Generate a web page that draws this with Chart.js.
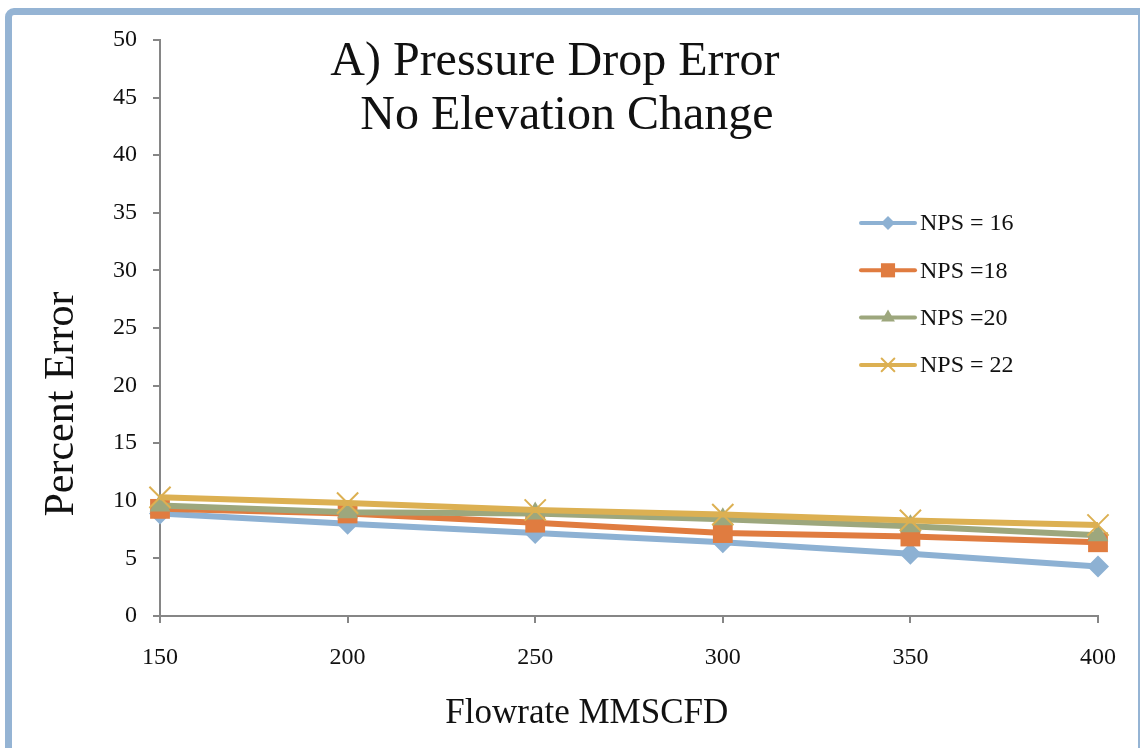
<!DOCTYPE html>
<html>
<head>
<meta charset="utf-8">
<script src="https://cdn.jsdelivr.net/npm/chart.js@4.4.1/dist/chart.umd.min.js"></script>
<style>
  html, body { margin: 0; padding: 0; background: #fff; overflow: hidden; }
  #wrap { position: relative; width: 1140px; height: 748px; }
  #frame {
    position: absolute; left: 5px; top: 8px; width: 1126px; height: 800px;
    border: 7px solid #95b4d4; border-right-width: 2px; border-radius: 9px 0 0 0;
  }
  canvas { position: absolute; left: 0; top: 0; }
</style>
</head>
<body>
<div id="wrap">
  <div id="frame"></div>
  <canvas id="errChart" width="1140" height="748"></canvas>
</div>
<script>
const flowrates = ['150', '200', '250', '300', '350', '400'];
const nps16 = [8.9, 8.0, 7.2, 6.4, 5.4, 4.3];
const nps18 = [9.3, 8.9, 8.1, 7.2, 6.9, 6.4];
const nps20 = [9.6, 9.0, 8.9, 8.4, 7.8, 7.0];
const nps22 = [10.3, 9.8, 9.2, 8.8, 8.3, 7.9];
const seriesNames = ['NPS = 16', 'NPS =18', 'NPS =20', 'NPS = 22'];
const titleLines = ['A) Pressure Drop Error', ' No Elevation Change'];

const SERIF = '"Liberation Serif", "Times New Roman", serif';
const AXIS_GREY = '#868686';

const styles = [
  { color: '#8db1d3', point: 'rectRot',  radius: 11, legendRadius: 7 },
  { color: '#e07c40', point: 'rect',     radius: 14, legendRadius: 10 },
  { color: '#9da77d', point: 'triangle', radius: 12, legendRadius: 8 },
  { color: '#dcb052', point: 'crossRot', radius: 15, legendRadius: 9 }
];

const values = [nps16, nps18, nps20, nps22];

const datasets = values.map((vals, i) => ({
  label: seriesNames[i],
  data: vals,
  borderColor: styles[i].color,
  backgroundColor: styles[i].color,
  borderWidth: 6,
  pointStyle: styles[i].point,
  pointRadius: styles[i].radius,
  pointHoverRadius: styles[i].radius,
  pointBorderWidth: styles[i].point === 'crossRot' ? 2 : 0,
  pointBorderColor: styles[i].color,
  pointBackgroundColor: styles[i].color,
  tension: 0,
  fill: false,
  order: values.length - i  // later series sit on top
}));

// title, axis titles and the in-plot legend
const textLayer = {
  id: 'textLayer',
  afterDraw(chart) {
    const { ctx, chartArea: a } = chart;
    ctx.save();
    ctx.fillStyle = '#111';

    // title
    ctx.font = '48px ' + SERIF;
    ctx.textAlign = 'center';
    ctx.textBaseline = 'alphabetic';
    const tx = a.left + 0.421 * (a.right - a.left);
    ctx.fillText(titleLines[0], tx, a.top + 35);
    ctx.fillText(titleLines[1], tx + 6, a.top + 89);

    // x axis title
    ctx.font = '35px ' + SERIF;
    ctx.fillText('Flowrate MMSCFD', a.left + 0.455 * (a.right - a.left), a.bottom + 107);

    // y axis title
    ctx.save();
    ctx.translate(a.left - 87, a.top + 364);
    ctx.rotate(-Math.PI / 2);
    ctx.font = '42px ' + SERIF;
    ctx.fillText('Percent Error', 0, 0);
    ctx.restore();

    // legend
    const lx = a.right - 237;
    const ly = a.top + 183;
    ctx.font = '24px ' + SERIF;
    ctx.textAlign = 'left';
    ctx.textBaseline = 'middle';
    seriesNames.forEach((name, i) => {
      const y = ly + i * 47.3;
      const s = styles[i];
      ctx.strokeStyle = s.color;
      ctx.fillStyle = s.color;
      ctx.lineWidth = 4;
      ctx.lineCap = 'round';
      ctx.beginPath();
      ctx.moveTo(lx, y);
      ctx.lineTo(lx + 54, y);
      ctx.stroke();
      ctx.lineWidth = 2;
      Chart.helpers.drawPoint(ctx, {
        pointStyle: s.point,
        radius: s.legendRadius,
        borderWidth: s.point === 'crossRot' ? 2 : 0,
        rotation: 0
      }, lx + 27, y);
      ctx.fillStyle = '#111';
      ctx.fillText(name, lx + 59, y + 1);
    });
    ctx.restore();
  }
};

new Chart(document.getElementById('errChart'), {
  type: 'line',
  data: { labels: flowrates, datasets: datasets },
  plugins: [textLayer],
  options: {
    responsive: false,
    animation: false,
    layout: { padding: { top: 40, right: 42, left: 0, bottom: 0 } },
    plugins: {
      legend: { display: false },
      title: { display: false },
      tooltip: { enabled: false }
    },
    scales: {
      x: {
        type: 'category',
        offset: false,
        afterFit(scale) { scale.height = 132; },
        grid: {
          display: true,
          drawOnChartArea: false,
          drawTicks: true,
          tickLength: 7,
          color: AXIS_GREY,
          lineWidth: 2,
          offset: false
        },
        border: { display: true, color: AXIS_GREY, width: 2 },
        ticks: {
          color: '#111',
          font: { family: SERIF, size: 24 },
          padding: 20,
          maxRotation: 0
        }
      },
      y: {
        min: 0,
        max: 50,
        afterFit(scale) { scale.width = 160; },
        grid: {
          display: true,
          drawOnChartArea: false,
          drawTicks: true,
          tickLength: 7,
          color: AXIS_GREY,
          lineWidth: 2
        },
        border: { display: true, color: AXIS_GREY, width: 2 },
        ticks: {
          stepSize: 5,
          color: '#111',
          font: { family: SERIF, size: 24 },
          padding: 16
        }
      }
    }
  }
});
</script>
</body>
</html>
